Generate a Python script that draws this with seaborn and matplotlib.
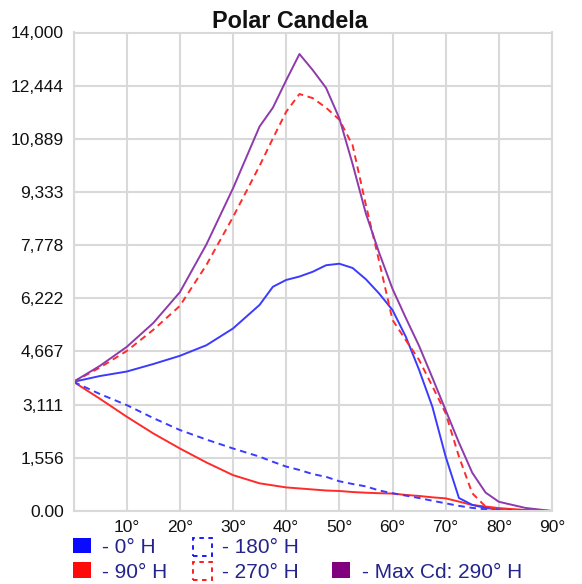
import matplotlib
matplotlib.use("Agg")
import matplotlib.pyplot as plt
from matplotlib.patches import Rectangle
import pandas as pd
import seaborn as sns

# Vertical angle (degrees) at which candela values are sampled
angles = [0, 5, 10, 15, 20, 25, 30, 35, 37.5, 40, 42.5, 45, 47.5, 50, 52.5,
          55, 57.5, 60, 62.5, 65, 67.5, 70, 72.5, 75, 77.5, 80, 85, 90]

# Candela per horizontal plane
cd_0h = [3780, 3950, 4080, 4300, 4540, 4850, 5340, 6030, 6560, 6760, 6860, 7000,
         7190, 7235, 7110, 6780, 6360, 5880, 5100, 4130, 3050, 1590, 380, 180,
         90, 40, 10, 0]
cd_90h = [3780, 3280, 2760, 2270, 1830, 1420, 1050, 810, 750, 690, 660, 630,
          600, 585, 555, 535, 520, 510, 470, 440, 400, 370, 275, 175, 130, 85,
          30, 0]
cd_180h = [3780, 3420, 3100, 2720, 2370, 2090, 1830, 1590, 1440, 1300, 1200,
           1080, 1000, 870, 790, 720, 600, 520, 450, 380, 300, 225, 150, 90, 50,
           30, 10, 0]
cd_270h = [3780, 4200, 4680, 5300, 6000, 7200, 8600, 10100, 10900, 11680, 12200,
           12080, 11800, 11450, 10700, 8950, 7300, 5590, 5000, 4420, 3650, 2860,
           1590, 520, 130, 50, 15, 0]
cd_max = [3780, 4250, 4800, 5500, 6400, 7800, 9440, 11250, 11800, 12600, 13370,
          12900, 12380, 11490, 10150, 8700, 7550, 6500, 5650, 4830, 3900, 2950,
          2000, 1120, 540, 270, 90, 0]

y_ticks = [0, 1556, 3111, 4667, 6222, 7778, 9333, 10889, 12444, 14000]
y_labels = ["0.00", "1,556", "3,111", "4,667", "6,222", "7,778", "9,333",
            "10,889", "12,444", "14,000"]
x_ticks = [10, 20, 30, 40, 50, 60, 70, 80, 90]
x_labels = ["10°", "20°", "30°", "40°", "50°", "60°", "70°", "80°", "90°"]

legend_labels = ["- 0° H", "- 90° H", "- 180° H", "- 270° H", "- Max Cd: 290° H"]

BLUE = "#3b3bff"
RED = "#ff2b2b"
PURPLE = "#8f3aab"
GRID = "#d9d9d9"
TEXT_NAVY = "#24248c"

sns.set_style("white")
plt.rcParams["font.family"] = ["Liberation Sans", "DejaVu Sans"]

W, H = 582, 584
fig = plt.figure(figsize=(W / 100, H / 100), dpi=100)
ax = fig.add_axes([73.5 / W, 1 - 511 / H, (552 - 73.5) / W, (511 - 32.5) / H])

df = pd.DataFrame({"angle": angles, "0h": cd_0h, "90h": cd_90h,
                   "180h": cd_180h, "270h": cd_270h, "max": cd_max})

lw = 1.4
dash = (0, (3.4, 2.4))
sns.lineplot(data=df, x="angle", y="90h", ax=ax, color=RED, lw=lw)
sns.lineplot(data=df, x="angle", y="180h", ax=ax, color=BLUE, lw=lw, linestyle=dash)
sns.lineplot(data=df, x="angle", y="0h", ax=ax, color=BLUE, lw=lw)
sns.lineplot(data=df, x="angle", y="270h", ax=ax, color=RED, lw=lw, linestyle=dash)
sns.lineplot(data=df, x="angle", y="max", ax=ax, color=PURPLE, lw=lw)

ax.set_xlim(0, 90)
ax.set_ylim(0, 14000)
ax.set_xticks([0] + x_ticks)
ax.set_xticklabels([""] + x_labels)
ax.set_yticks(y_ticks)
ax.set_yticklabels(y_labels)
ax.set_xlabel("")
ax.set_ylabel("")
ax.grid(True, color=GRID, lw=1.5)
ax.set_axisbelow(True)
for side in ax.spines.values():
    side.set_color(GRID)
    side.set_linewidth(1.5)
ax.tick_params(axis="both", length=0, labelsize=12.5, colors="#111111")
ax.tick_params(axis="x", pad=6.5)
ax.tick_params(axis="y", pad=7)
for lab in ax.get_xticklabels():
    lab.set_x(lab.get_position()[0])

fig.text(290 / W, 1 - 28 / H, "Polar Candela", ha="center", va="baseline",
         fontsize=16.8, fontweight="bold", color="#111111")


# Legend drawn in pixel coordinates below the plot
def px_rect(x0, y0, x1, y1, **kw):
    fig.patches.append(Rectangle((x0 / W, 1 - y1 / H), (x1 - x0) / W,
                                 (y1 - y0) / H, transform=fig.transFigure,
                                 figure=fig, **kw))


def px_text(x, y, s):
    fig.text(x / W, 1 - y / H, s, ha="left", va="baseline", fontsize=15,
             color=TEXT_NAVY)


solid_swatch = dict(lw=0)
dash_swatch = dict(fill=False, lw=1.3, linestyle=(0, (2.5, 2.5)))

px_rect(72.7, 537.7, 90.7, 553.3, facecolor="#0a0aff", **solid_swatch)
px_text(101.7, 553.3, legend_labels[0])
px_rect(72.7, 561.7, 90.7, 578.3, facecolor="#ff0a0a", **solid_swatch)
px_text(101.7, 578.3, legend_labels[1])
px_rect(193, 538, 212, 556, edgecolor="#0a0aff", **dash_swatch)
px_text(221.7, 553.3, legend_labels[2])
px_rect(193, 562, 212, 580, edgecolor="#ff0a0a", **dash_swatch)
px_text(221.7, 578.3, legend_labels[3])
px_rect(331.7, 561.7, 350, 578.3, facecolor="#800080", **solid_swatch)
px_text(361.7, 578.3, legend_labels[4])

fig.savefig("out.png", dpi=100)
